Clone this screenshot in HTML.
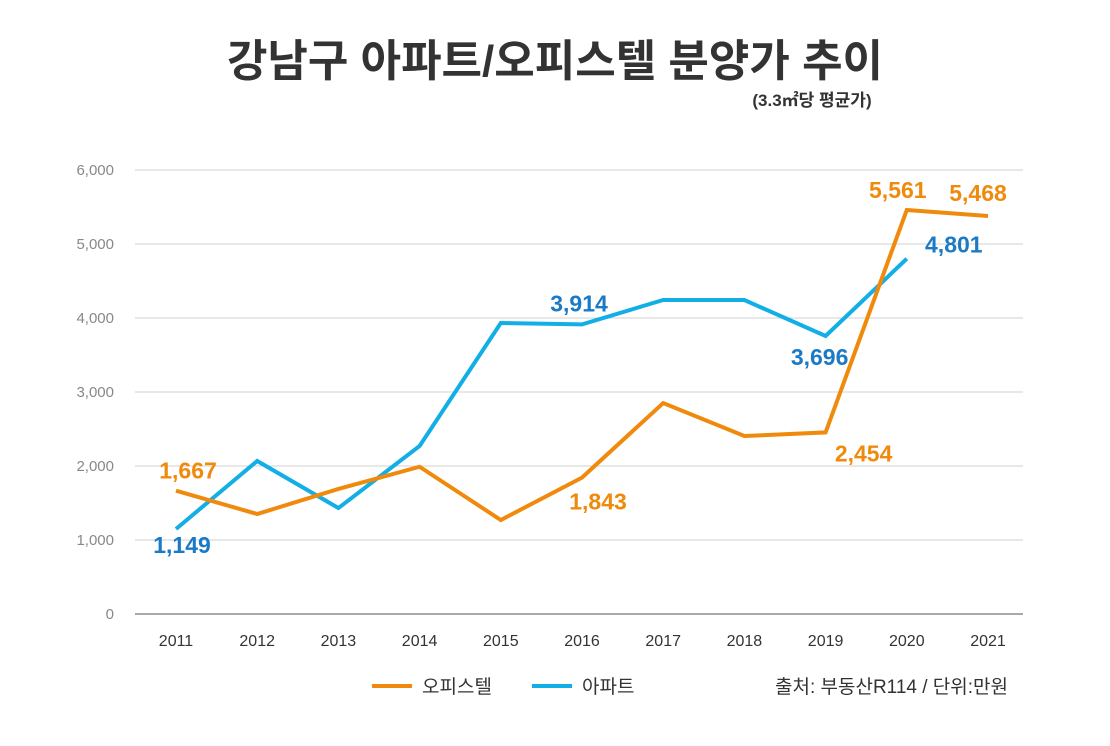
<!DOCTYPE html>
<html><head><meta charset="utf-8">
<style>
html,body{margin:0;padding:0;background:#fff;}
body{width:1110px;height:741px;overflow:hidden;font-family:"Liberation Sans","Noto Sans CJK KR",sans-serif;}
</style></head>
<body>
<svg id="chart" width="1110" height="741" xmlns="http://www.w3.org/2000/svg" style="font-family:'Liberation Sans','Noto Sans CJK KR',sans-serif">
<text x="555" y="76" text-anchor="middle" font-size="44" font-weight="bold" fill="#333">강남구 아파트/오피스텔 분양가 추이</text>
<text x="812" y="106" text-anchor="middle" font-size="17" font-weight="bold" fill="#333">(3.3㎡당 평균가)</text>
<g id="grid"></g><g id="series"></g>
<g>
<line x1="372" y1="686" x2="412" y2="686" stroke="#f08a0c" stroke-width="4"/>
<text x="422" y="693" font-size="19" fill="#333">오피스텔</text>
<line x1="532" y1="686" x2="572" y2="686" stroke="#12aee6" stroke-width="4"/>
<text x="582" y="693" font-size="19" fill="#333">아파트</text>
</g>
<text x="1008" y="693" text-anchor="end" font-size="19" fill="#333">출처: 부동산R114 / 단위:만원</text>
</svg>
<script>
const years = ["2011","2012","2013","2014","2015","2016","2017","2018","2019","2020","2021"];
const yTicks = [0,1000,2000,3000,4000,5000,6000];
const officetel = [1667,1351,1690,1990,1270,1843,2851,2405,2454,5460,5378];
const apartment = [1149,2068,1432,2270,3932,3914,4243,4243,3757,4801];
const officetelLabels = [[0,"1,667",12,-20],[5,"1,843",16,24],[8,"2,454",38,21],[9,"5,561",-9,-20],[10,"5,468",-10,-23]];
const apartmentLabels = [[0,"1,149",6,16],[5,"3,914",-3,-21],[8,"3,696",-6,21],[9,"4,801",47,-14]];
const NS="http://www.w3.org/2000/svg";
const x=i=>176+i*81.2;
const y=v=>614-v*0.074;
function mk(tag,attrs,parent,text){const e=document.createElementNS(NS,tag);for(const k in attrs)e.setAttribute(k,attrs[k]);if(text!==undefined)e.textContent=text;parent.appendChild(e);return e;}
const grid=document.getElementById('grid'),ser=document.getElementById('series');
yTicks.forEach(t=>{
 const l=mk('line',{x1:135,x2:1023,y1:y(t),y2:y(t),stroke:t===0?'#555':'#d0d0d0','stroke-width':1},grid);
 
 
 const tx=mk('text',{x:114,y:y(t)+5,'text-anchor':'end','font-size':15,fill:'#888'},grid,t.toLocaleString('en-US'));
 
 
});
years.forEach((yr,i)=>{
 const tx=mk('text',{x:x(i),y:646,'text-anchor':'middle','font-size':16,fill:'#333'},grid,yr);
 
 
});
function line(vals,color,name){
 const p=mk('polyline',{points:vals.map((v,i)=>x(i)+','+y(v)).join(' '),fill:'none',stroke:color,'stroke-width':4,'stroke-linejoin':'miter'},ser);
 
 
}
line(apartment,'#12aee6','apartment-line');
line(officetel,'#f08a0c','officetel-line');
function labels(arr,vals,color,name){
 arr.forEach(([i,t,dx,dy])=>{
  const tx=mk('text',{x:x(i)+dx,y:y(vals[i])+dy+8,'text-anchor':'middle','font-size':23,'font-weight':'bold',fill:color},ser,t);
  
  
 });
}
labels(officetelLabels,officetel,'#f08a0c','officetel');
labels(apartmentLabels,apartment,'#1a7ac6','apartment');
</script>
</body></html>
